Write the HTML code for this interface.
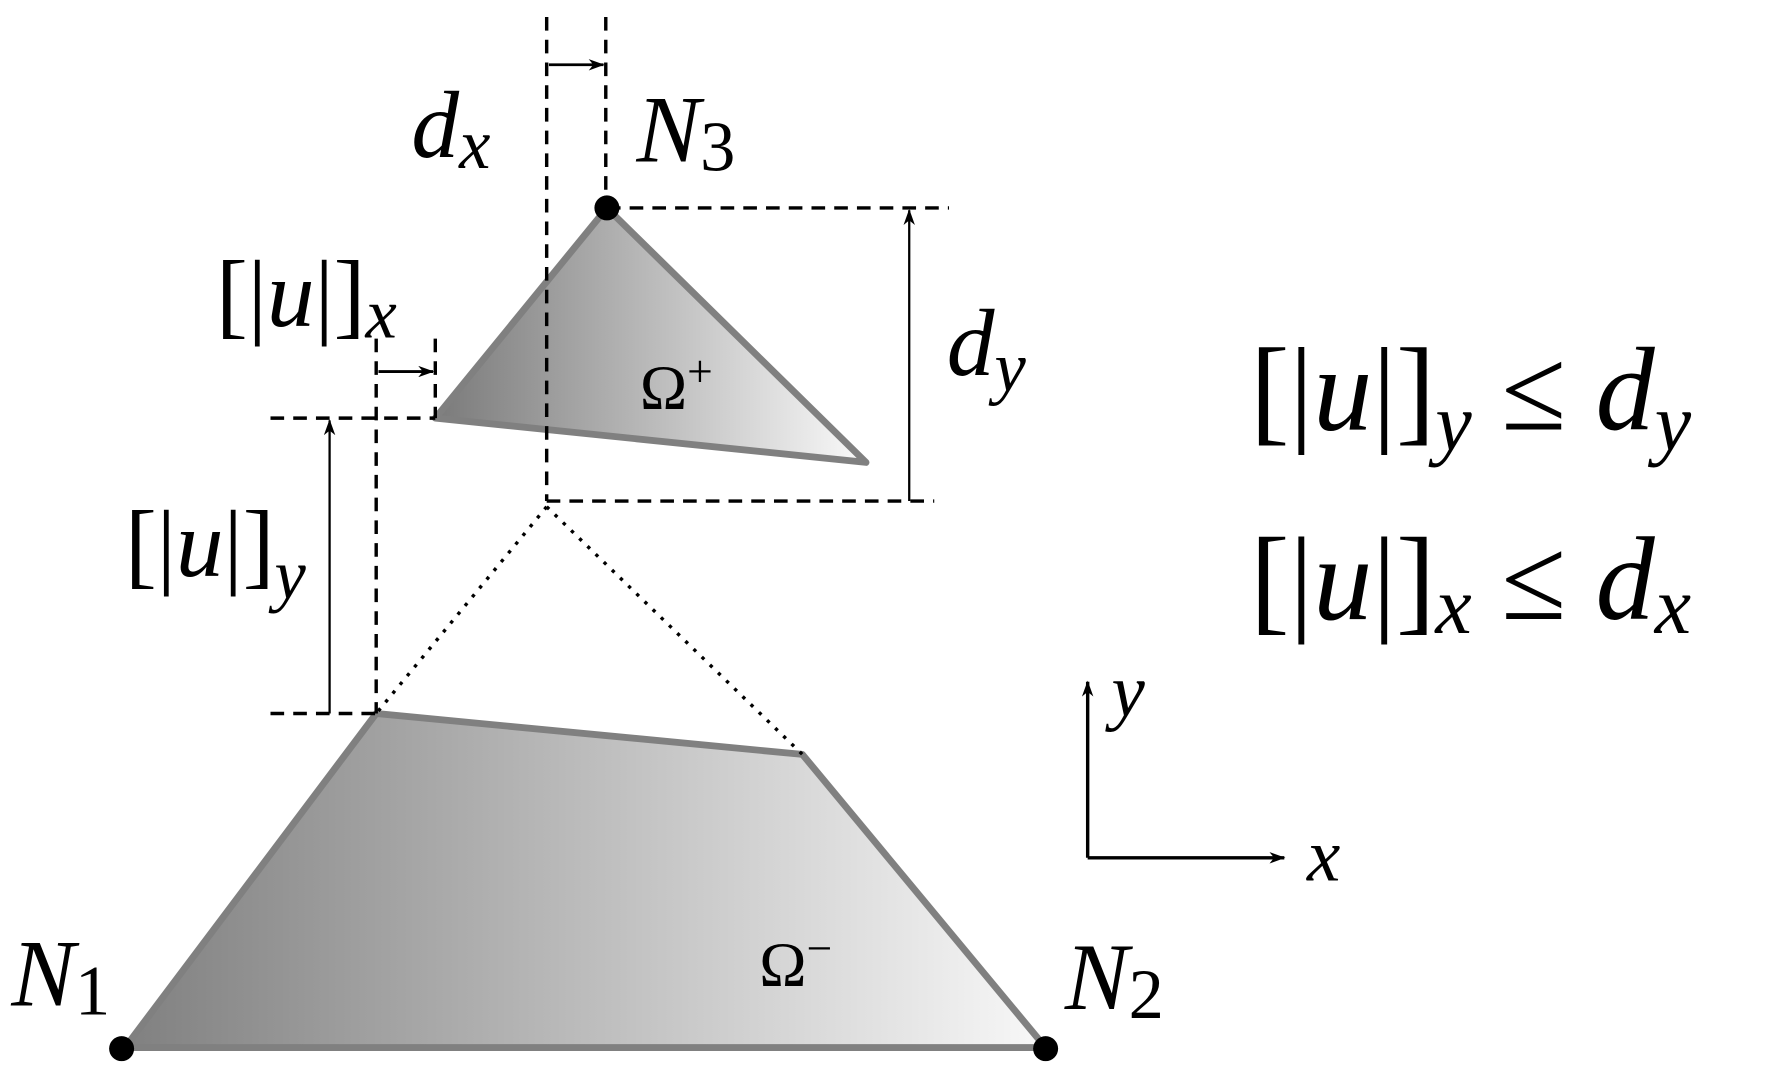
<!DOCTYPE html>
<html><head><style>html,body{margin:0;padding:0;background:#fff}svg{display:block}</style></head><body>
<svg width="1773" height="1068" viewBox="0 0 1560 940" preserveAspectRatio="none" xmlns="http://www.w3.org/2000/svg" font-family="Liberation Serif, serif">
<defs>
<linearGradient id="g1" x1="0" x2="1" y1="0" y2="0"><stop offset="0" stop-color="#7a7a7a"/><stop offset="1" stop-color="#fafafa"/></linearGradient>
<linearGradient id="g2" x1="0" x2="1" y1="0" y2="0"><stop offset="0" stop-color="#808080"/><stop offset="1" stop-color="#f8f8f8"/></linearGradient>
<marker id="ar" markerWidth="14" markerHeight="10" refX="13" refY="5" orient="auto" markerUnits="userSpaceOnUse"><path d="M0,0 L14,5 L0,10 L4,5 Z" fill="#000"/></marker>
</defs>
<polygon points="534,183 383,368 762,407" fill="url(#g1)" stroke="#808080" stroke-width="6" stroke-linejoin="round"/>
<polygon points="110,922 331,628 706,664 920,922" fill="url(#g2)" stroke="#808080" stroke-width="6" stroke-linejoin="round"/>
<g stroke="#000" stroke-width="3" stroke-dasharray="12,8" fill="none">
<line x1="481" y1="15" x2="481" y2="441"/>
<line x1="533" y1="15" x2="533" y2="183"/>
<line x1="534" y1="183" x2="835" y2="183"/>
<line x1="481" y1="441" x2="822" y2="441"/>
<line x1="383" y1="298" x2="383" y2="368"/>
<line x1="331" y1="298" x2="331" y2="628"/>
<line x1="238" y1="368" x2="383" y2="368"/>
<line x1="238" y1="628" x2="331" y2="628"/>
</g>
<g stroke="#000" stroke-width="3" stroke-dasharray="3,7" fill="none">
<line x1="481" y1="446" x2="331" y2="628"/>
<line x1="481" y1="446" x2="706" y2="664"/>
</g>
<g stroke="#000" fill="none">
<line x1="483" y1="57" x2="531" y2="57" stroke-width="2.5" marker-end="url(#ar)"/>
<line x1="333" y1="327" x2="381" y2="327" stroke-width="2.5" marker-end="url(#ar)"/>
<line x1="800" y1="441" x2="800" y2="185" stroke-width="2" marker-end="url(#ar)"/>
<line x1="290" y1="628" x2="290" y2="370" stroke-width="2" marker-end="url(#ar)"/>
<line x1="957" y1="755" x2="957" y2="600" stroke-width="3" marker-end="url(#ar)"/>
<line x1="957" y1="755" x2="1130" y2="755" stroke-width="3" marker-end="url(#ar)"/>
</g>
<circle cx="534" cy="183" r="11" fill="#000"/>
<circle cx="107" cy="923" r="11" fill="#000"/>
<circle cx="920" cy="923" r="11" fill="#000"/>
<g font-style="italic" fill="#000">
<text x="362" y="138" font-size="84">d<tspan font-size="62" dy="10">x</tspan></text>
<text x="560" y="142" font-size="84">N<tspan font-style="normal" font-size="62" dy="8">3</tspan></text>
<text x="833" y="330" font-size="84">d<tspan font-size="62" dy="14">y</tspan></text>
<text x="10" y="885" font-size="84">N<tspan font-style="normal" font-size="62" dy="8">1</tspan></text>
<text x="937" y="888" font-size="84">N<tspan font-style="normal" font-size="62" dy="8">2</tspan></text>
<text x="978" y="630" font-size="66">y</text>
<text x="1150" y="775" font-size="66">x</text>
</g>
<g fill="#000" font-size="84">
<text x="190" y="287">[|<tspan font-style="italic">u</tspan>|]<tspan font-style="italic" font-size="62" dy="10">x</tspan></text>
<text x="110" y="507">[|<tspan font-style="italic">u</tspan>|]<tspan font-style="italic" font-size="62" dy="20">y</tspan></text>
<text x="563" y="360" font-size="56">Ω<tspan font-size="40" dy="-20">+</tspan></text>
<text x="668" y="868" font-size="56">Ω<tspan font-size="40" dy="-20">−</tspan></text>
<text x="1100" y="378" font-size="104">[|<tspan font-style="italic">u</tspan>|]<tspan font-style="italic" font-size="72" dy="18">y</tspan><tspan dy="-18"> ≤ </tspan><tspan font-style="italic">d</tspan><tspan font-style="italic" font-size="72" dy="18">y</tspan></text>
<text x="1100" y="545" font-size="104">[|<tspan font-style="italic">u</tspan>|]<tspan font-style="italic" font-size="72" dy="12">x</tspan><tspan dy="-12"> ≤ </tspan><tspan font-style="italic">d</tspan><tspan font-style="italic" font-size="72" dy="12">x</tspan></text>
</g>
</svg>
</body></html>
